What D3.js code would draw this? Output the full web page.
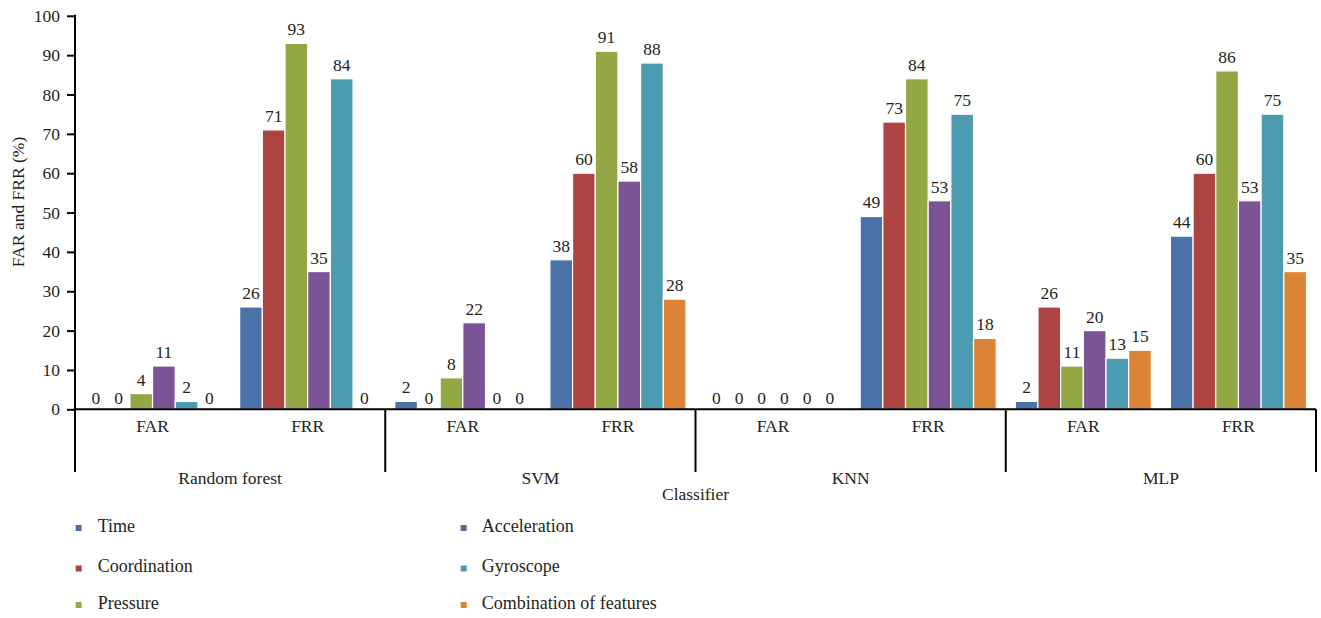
<!DOCTYPE html>
<html>
<head>
<meta charset="utf-8">
<script src="https://cdn.jsdelivr.net/npm/d3@7"></script>
<style>
  html, body { margin: 0; padding: 0; background: #fff; }
  svg { display: block; }
</style>
</head>
<body>
<svg id="chart" width="1321" height="618"></svg>
<script>
// Classifiers, error measures and feature series
const classifiers = ["Random forest", "SVM", "KNN", "MLP"];
const metrics = ["FAR", "FRR"];
const seriesNames = ["Time", "Coordination", "Pressure", "Acceleration", "Gyroscope", "Combination of features"];
const seriesColors = ["#4a72a8", "#ad4441", "#93a845", "#7b5497", "#4d9bb1", "#dc8436"];

// Values (%) per series, ordered RF FAR, RF FRR, SVM FAR, SVM FRR, KNN FAR, KNN FRR, MLP FAR, MLP FRR
const timeValues         = [0, 26, 2, 38, 0, 49, 2, 44];
const coordinationValues = [0, 71, 0, 60, 0, 73, 26, 60];
const pressureValues     = [4, 93, 8, 91, 0, 84, 11, 86];
const accelerationValues = [11, 35, 22, 58, 0, 53, 20, 53];
const gyroscopeValues    = [2, 84, 0, 88, 0, 75, 13, 75];
const combinationValues  = [0, 0, 0, 28, 0, 18, 15, 35];

const yTicks = [0, 10, 20, 30, 40, 50, 60, 70, 80, 90, 100];

const seriesValues = [timeValues, coordinationValues, pressureValues,
                      accelerationValues, gyroscopeValues, combinationValues];

const groups = [];
classifiers.forEach(c => metrics.forEach(m => groups.push({ classifier: c, metric: m, key: c + "|" + m })));
groups.forEach((g, i) => {
  g.bars = seriesNames.map((s, j) => ({ series: s, value: seriesValues[j][i], color: seriesColors[j] }));
});

const FONT = '"Liberation Serif", "Times New Roman", serif';
const TEXT_COLOR = "#231f20";

const svg = d3.select("#chart");
const plotLeft = 75, plotRight = 1316, plotTop = 15.8, plotBase = 409.3, sepBottom = 472;

const x0 = d3.scaleBand().domain(groups.map(g => g.key)).range([plotLeft, plotRight]).padding(0);
const x1 = d3.scaleBand().domain(seriesNames).range([0, x0.bandwidth()]).paddingInner(0).paddingOuter(0.42);
const y = d3.scaleLinear().domain([0, 100]).range([plotBase, plotTop]);

// Bars
const gGroups = svg.append("g").selectAll("g").data(groups).join("g")
  .attr("transform", d => `translate(${x0(d.key)},0)`);

gGroups.selectAll("rect").data(d => d.bars).join("rect")
  .attr("x", d => x1(d.series))
  .attr("y", d => y(d.value))
  .attr("width", x1.bandwidth())
  .attr("height", d => plotBase - y(d.value))
  .attr("fill", d => d.color)
  .attr("stroke", "#ffffff")
  .attr("stroke-width", 1.2);

// Value labels
gGroups.selectAll("text.val").data(d => d.bars).join("text")
  .attr("class", "val")
  .attr("x", d => x1(d.series) + x1.bandwidth() / 2)
  .attr("y", d => y(d.value) - (d.value === 0 ? 5 : 8))
  .attr("text-anchor", "middle")
  .style("font-size", "17.5px")
  .text(d => d3.format("d")(d.value));

// Y axis
const yAxis = svg.append("g")
  .attr("transform", `translate(${plotLeft},0)`)
  .call(d3.axisLeft(y).tickValues(yTicks).tickSize(8).tickPadding(7).tickFormat(d3.format("d")));
yAxis.select(".domain").remove();
yAxis.selectAll(".tick line").attr("stroke", "#000").attr("stroke-width", 2);
yAxis.selectAll(".tick text").style("font-size", "17.5px");

// Axis lines
svg.append("line").attr("x1", plotLeft).attr("x2", plotLeft).attr("y1", plotTop - 1).attr("y2", sepBottom)
  .attr("stroke", "#000").attr("stroke-width", 2);
svg.append("line").attr("x1", plotLeft).attr("x2", plotRight).attr("y1", plotBase).attr("y2", plotBase)
  .attr("stroke", "#000").attr("stroke-width", 2);

// Classifier separators
const classWidth = x0.bandwidth() * metrics.length;
classifiers.forEach(c => {
  const xs = x0(c + "|" + metrics[0]) + classWidth;
  svg.append("line").attr("x1", xs).attr("x2", xs).attr("y1", plotBase).attr("y2", sepBottom)
    .attr("stroke", "#000").attr("stroke-width", 2);
});

// Metric labels
svg.append("g").selectAll("text").data(groups).join("text")
  .attr("x", d => x0(d.key) + x0.bandwidth() / 2)
  .attr("y", 431.7)
  .attr("text-anchor", "middle")
  .style("font-size", "17.5px")
  .text(d => d.metric);

// Classifier labels
svg.append("g").selectAll("text").data(classifiers).join("text")
  .attr("x", c => x0(c + "|" + metrics[0]) + classWidth / 2)
  .attr("y", 484.3)
  .attr("text-anchor", "middle")
  .style("font-size", "17.5px")
  .text(c => c);

// Axis titles
svg.append("text")
  .attr("x", (plotLeft + plotRight) / 2).attr("y", 500)
  .attr("text-anchor", "middle").style("font-size", "17.5px")
  .text("Classifier");

svg.append("text")
  .attr("transform", "translate(23.5,202) rotate(-90)")
  .attr("text-anchor", "middle").style("font-size", "17.5px")
  .text("FAR and FRR (%)");

// Legend: two columns of three entries
const legendCols = [{ sq: 75.7, tx: 97.7 }, { sq: 460.7, tx: 481.7 }];
const legendRows = [531.5, 572, 608.5];
const legend = svg.append("g").selectAll("g").data(seriesNames).join("g")
  .attr("transform", (d, i) => `translate(0,${legendRows[i % 3]})`);
legend.append("rect")
  .attr("x", (d, i) => legendCols[Math.floor(i / 3)].sq)
  .attr("y", -6.5).attr("width", 6).attr("height", 6)
  .attr("fill", (d, i) => seriesColors[i]);
legend.append("text")
  .attr("x", (d, i) => legendCols[Math.floor(i / 3)].tx)
  .attr("y", 0)
  .style("font-size", "18px")
  .text(d => d);

// Shared typography for every label
svg.selectAll("text")
  .style("font-family", FONT)
  .attr("fill", TEXT_COLOR);
</script>
</body>
</html>
